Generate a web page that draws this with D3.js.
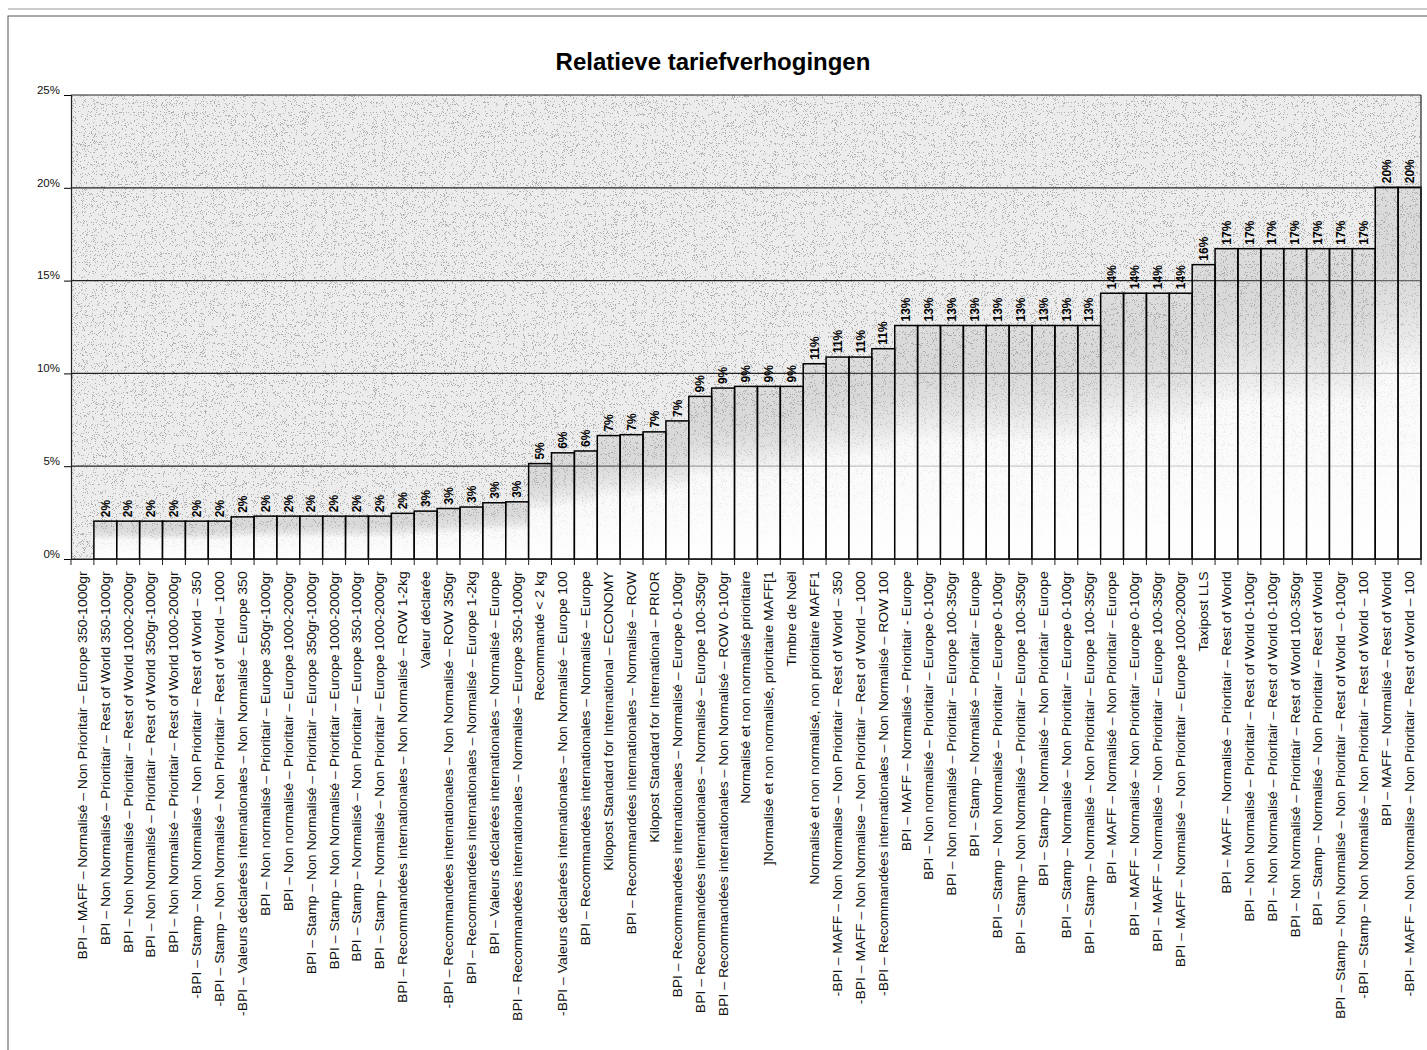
<!DOCTYPE html>
<meta charset="utf-8">
<style>
body { margin: 0; background: #fff; }
svg text { font-family: "Liberation Sans", Arial, sans-serif; }
.grid line { stroke: #222; stroke-width: 1.2px; }
.bars rect { stroke: #000; stroke-width: 1.5px; }
</style>
<svg width="1427" height="1050"></svg>
<script src="https://d3js.org/d3.v7.min.js"></script>
<script>
// category labels (first one has no bar in the original chart)
var categories = [
  "BPI – MAFF – Normalisé – Non Prioritair – Europe 350-1000gr",
  "BPI – Non Normalisé – Prioritair – Rest of World 350-1000gr",
  "BPI – Non Normalisé – Prioritair – Rest of World 1000-2000gr",
  "BPI – Non Normalisé – Prioritair – Rest of World 350gr-1000gr",
  "BPI – Non Normalisé – Prioritair – Rest of World 1000-2000gr",
  "-BPI – Stamp – Non Normalisé – Non Prioritair – Rest of World – 350",
  "-BPI – Stamp – Non Normalisé – Non Prioritair – Rest of World – 1000",
  "-BPI – Valeurs déclarées internationales – Non Normalisé – Europe 350",
  "BPI – Non normalisé – Prioritair – Europe 350gr-1000gr",
  "BPI – Non normalisé – Prioritair – Europe 1000-2000gr",
  "BPI – Stamp – Non Normalisé – Prioritair – Europe 350gr-1000gr",
  "BPI – Stamp – Non Normalisé – Prioritair – Europe 1000-2000gr",
  "BPI – Stamp – Normalisé – Non Prioritair – Europe 350-1000gr",
  "BPI – Stamp – Normalisé – Non Prioritair – Europe 1000-2000gr",
  "BPI – Recommandées internationales – Non Normalisé – ROW 1-2kg",
  "Valeur déclarée",
  "-BPI – Recommandées internationales – Non Normalisé – ROW 350gr",
  "BPI – Recommandées internationales – Normalisé – Europe 1-2kg",
  "BPI – Valeurs déclarées internationales – Normalisé – Europe",
  "BPI – Recommandées internationales – Normalisé – Europe 350-1000gr",
  "Recommandé < 2 kg",
  "-BPI – Valeurs déclarées internationales – Non Normalisé – Europe 100",
  "BPI – Recommandées internationales – Normalisé – Europe",
  "Kilopost Standard for International – ECONOMY",
  "BPI – Recommandées internationales – Normalisé – ROW",
  "Kilopost Standard for International – PRIOR",
  "BPI – Recommandées internationales – Normalisé – Europe 0-100gr",
  "BPI – Recommandées internationales – Normalisé – Europe 100-350gr",
  "BPI – Recommandées internationales – Non Normalisé – ROW 0-100gr",
  "Normalisé et non normalisé prioritaire",
  "]Normalisé et non normalisé, prioritaire MAFF[1",
  "Timbre de Noël",
  "Normalisé et non normalisé, non prioritaire MAFF1",
  "-BPI – MAFF – Non Normalise – Non Prioritair – Rest of World – 350",
  "-BPI – MAFF – Non Normalise – Non Prioritair – Rest of World – 1000",
  "-BPI – Recommandées internationales – Non Normalisé – ROW 100",
  "BPI – MAFF – Normalisé – Prioritair - Europe",
  "BPI – Non normalisé – Prioritair – Europe 0-100gr",
  "BPI – Non normalisé – Prioritair – Europe 100-350gr",
  "BPI – Stamp – Normalisé – Prioritair – Europe",
  "BPI – Stamp – Non Normalisé – Prioritair – Europe 0-100gr",
  "BPI – Stamp – Non Normalisé – Prioritair – Europe 100-350gr",
  "BPI – Stamp – Normalisé – Non Prioritair – Europe",
  "BPI – Stamp – Normalisé – Non Prioritair – Europe 0-100gr",
  "BPI – Stamp – Normalisé – Non Prioritair – Europe 100-350gr",
  "BPI – MAFF – Normalisé – Non Prioritair – Europe",
  "BPI – MAFF – Normalisé – Non Prioritair – Europe 0-100gr",
  "BPI – MAFF – Normalisé – Non Prioritair – Europe 100-350gr",
  "BPI – MAFF – Normalisé – Non Prioritair – Europe 1000-2000gr",
  "Taxipost LLS",
  "BPI – MAFF – Normalisé – Prioritair – Rest of World",
  "BPI – Non Normalisé – Prioritair – Rest of World 0-100gr",
  "BPI – Non Normalisé – Prioritair – Rest of World 0-100gr",
  "BPI – Non Normalisé – Prioritair – Rest of World 100-350gr",
  "BPI – Stamp – Normalisé – Non Prioritair – Rest of World",
  "BPI – Stamp – Non Normalisé – Non Prioritair – Rest of World – 0-100gr",
  "-BPI – Stamp – Non Normalisé – Non Prioritair – Rest of World – 100",
  "BPI – MAFF – Normalisé – Rest of World",
  "-BPI – MAFF – Non Normalise – Non Prioritair – Rest of World – 100"
];

// relative increase (null = no bar)
var values = [
  null,
  0.0204, 0.0204, 0.0204, 0.0204, 0.0204, 0.0204,
  0.0227, 0.0231, 0.0231, 0.0231, 0.0231, 0.0231, 0.0231,
  0.0246, 0.0258, 0.0272, 0.0280, 0.0303, 0.0308,
  0.0514,
  0.0572, 0.0582,
  0.0665, 0.0670, 0.0685, 0.0744,
  0.0876, 0.0921, 0.0930, 0.0930, 0.0930,
  0.1052,
  0.1088, 0.1088, 0.1133,
  0.1258, 0.1258, 0.1258, 0.1258, 0.1258, 0.1258, 0.1258, 0.1258, 0.1258,
  0.1432, 0.1432, 0.1432, 0.1432,
  0.1586,
  0.1672, 0.1672, 0.1672, 0.1672, 0.1672, 0.1672, 0.1672,
  0.2003, 0.2003
];

var yTicks = [0, 0.05, 0.10, 0.15, 0.20, 0.25];
var title = "Relatieve tariefverhogingen";

var svg = d3.select("svg");
var margin = {left: 71, right: 6, top: 95, bottom: 491};
var W = +svg.attr("width"), H = +svg.attr("height");

var x = d3.scaleBand()
    .domain(d3.range(categories.length))
    .range([margin.left, W - margin.right])
    .padding(0);

var y = d3.scaleLinear()
    .domain([0, 0.25])
    .range([H - margin.bottom, margin.top]);

var pct = d3.format(".0%");

var defs = svg.append("defs");

// speckled background like the scanned texture
var f = defs.append("filter").attr("id", "speckle")
    .attr("x", 0).attr("y", 0).attr("width", "100%").attr("height", "100%");
f.append("feTurbulence").attr("type", "fractalNoise")
    .attr("baseFrequency", 1.1).attr("numOctaves", 2).attr("seed", 7);
f.append("feColorMatrix").attr("type", "matrix")
    .attr("values", "0 0 0 0 0.3  0 0 0 0 0.3  0 0 0 0 0.3  1 0 0 0 0");
f.append("feComponentTransfer")
  .append("feFuncA").attr("type", "discrete")
    .attr("tableValues", "0 0 0 0 0 0 0 0 0 0 0 0 0 0.7 0.7 0.7 0.7 0.7 0.7 0.7");

// bar gradient: grey, see-through at the top, white at the foot
var g = defs.append("linearGradient").attr("id", "barGrad")
    .attr("x1", 0).attr("y1", 0).attr("x2", 0).attr("y2", 1);
g.append("stop").attr("offset", "0%").attr("stop-color", "#8a8a8a").attr("stop-opacity", 0.15);
g.append("stop").attr("offset", "50%").attr("stop-color", "#ffffff").attr("stop-opacity", 0.7);
g.append("stop").attr("offset", "100%").attr("stop-color", "#ffffff").attr("stop-opacity", 1);

// outer frame
svg.append("rect")
    .attr("x", 8).attr("y", 16).attr("width", W - 4).attr("height", H)
    .attr("fill", "none").attr("stroke", "#555").attr("stroke-width", 1);
svg.append("line")
    .attr("x1", 8).attr("x2", W).attr("y1", 9).attr("y2", 9)
    .attr("stroke", "#999").attr("stroke-width", 1);

// title
svg.append("text")
    .attr("x", 713).attr("y", 70)
    .attr("text-anchor", "middle")
    .attr("font-size", "24px").attr("font-weight", "bold")
    .text(title);

// plot background
svg.append("rect")
    .attr("x", margin.left).attr("y", margin.top)
    .attr("width", W - margin.right - margin.left)
    .attr("height", y(0) - margin.top)
    .attr("fill", "#ececec");
svg.append("rect")
    .attr("x", margin.left).attr("y", margin.top)
    .attr("width", W - margin.right - margin.left)
    .attr("height", y(0) - margin.top)
    .attr("fill", "#fff")
    .attr("filter", "url(#speckle)");

// gridlines
svg.append("g").attr("class", "grid")
  .selectAll("line")
  .data(yTicks)
  .enter().append("line")
    .attr("x1", margin.left).attr("x2", W - margin.right)
    .attr("y1", function(d) { return y(d); })
    .attr("y2", function(d) { return y(d); });

// bars
var barData = values.map(function(v, i) { return {i: i, v: v}; })
    .filter(function(d) { return d.v != null; });

svg.append("g").attr("class", "bars")
  .selectAll("rect")
  .data(barData)
  .enter().append("rect")
    .attr("x", function(d) { return x(d.i); })
    .attr("width", x.bandwidth())
    .attr("y", function(d) { return y(d.v); })
    .attr("height", function(d) { return y(0) - y(d.v); })
    .attr("fill", "url(#barGrad)");

// value labels
svg.append("g")
  .selectAll("text")
  .data(barData)
  .enter().append("text")
    .attr("transform", function(d) {
      return "translate(" + (x(d.i) + x.bandwidth() / 2) + "," + (y(d.v) - 4) + ") rotate(-90)";
    })
    .attr("dy", "0.35em")
    .attr("font-size", "12px").attr("font-weight", "bold")
    .text(function(d) { return pct(Math.round(d.v * 100) / 100); });

// y axis
var yAxis = svg.append("g")
    .attr("transform", "translate(" + margin.left + ",0)")
    .call(d3.axisLeft(y).tickValues(yTicks).tickFormat(pct).tickSize(7).tickPadding(4));
yAxis.select(".domain").attr("stroke", "#222").attr("stroke-width", 1.2);
yAxis.selectAll("text").attr("font-size", "11.5px").attr("fill", "#111")
    .attr("dy", "-0.15em");

// x axis: labels centred under categories, ticks on the boundaries
var xAxis = svg.append("g")
    .attr("transform", "translate(0," + y(0) + ")")
    .call(d3.axisBottom(x).tickFormat(function(i) { return categories[i]; }).tickSize(0));
xAxis.select(".domain").attr("stroke", "#222").attr("stroke-width", 1.2);
xAxis.selectAll("text")
    .attr("transform", "rotate(-90) scale(1.12,1)")
    .attr("x", -11).attr("y", 0).attr("dy", "0.35em")
    .attr("text-anchor", "end")
    .attr("font-size", "12.5px").attr("fill", "#111");

var bounds = d3.range(categories.length + 1).map(function(i) {
  return i < categories.length ? x(i) : x(i - 1) + x.bandwidth();
});
xAxis.append("g").selectAll("line")
  .data(bounds)
  .enter().append("line")
    .attr("x1", function(d) { return d; }).attr("x2", function(d) { return d; })
    .attr("y1", 0).attr("y2", 6)
    .attr("stroke", "#222");

// right border of the plot
svg.append("line")
    .attr("x1", W - margin.right).attr("x2", W - margin.right)
    .attr("y1", margin.top).attr("y2", y(0))
    .attr("stroke", "#222").attr("stroke-width", 1.2);
</script>
